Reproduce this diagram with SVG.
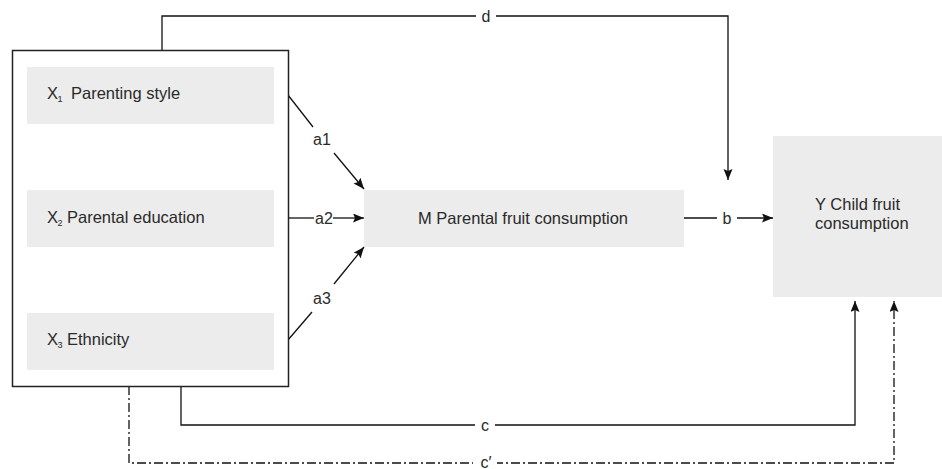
<svg xmlns="http://www.w3.org/2000/svg" width="942" height="469" viewBox="0 0 942 469">
<style>
.box{fill:#ececec;stroke:none}
.frame{fill:#fff;stroke:#222;stroke-width:1.5}
.t{font-family:"Liberation Sans",Arial,sans-serif;font-size:16.5px;fill:#2a2a2a}
.sub{font-size:9px}
.lbl{font-family:"Liberation Sans",Arial,sans-serif;font-size:16px;fill:#2a2a2a;text-anchor:middle;dominant-baseline:central}
.ln{fill:none;stroke:#111;stroke-width:1.3}
.dd{fill:none;stroke:#111;stroke-width:1.3;stroke-dasharray:9 3 2 3}
.bg{fill:#fff}
</style>
<defs>
<marker id="ah" markerUnits="userSpaceOnUse" markerWidth="12" markerHeight="10" refX="11" refY="4.5" orient="auto">
<path d="M0,0 L11,4.5 L0,9 L2,4.5 z" fill="#111"/>
</marker>
</defs>
<g id="connectors">
<path class="ln" d="M162,50 V16 H728 V180" marker-end="url(#ah)"/>
<rect class="bg" x="476" y="7" width="20" height="18"/>
<text class="lbl" x="486" y="16">d</text>
<path class="ln" d="M288,95 L313,127"/>
<text class="lbl" x="322" y="139">a1</text>
<path class="ln" d="M334,153 L364,189" marker-end="url(#ah)"/>
<path class="ln" d="M288,218 H314"/>
<text class="lbl" x="324" y="218">a2</text>
<path class="ln" d="M333,218 H364" marker-end="url(#ah)"/>
<path class="ln" d="M288,340 L312,312"/>
<text class="lbl" x="322" y="298">a3</text>
<path class="ln" d="M334,284 L364,247" marker-end="url(#ah)"/>
<path class="ln" d="M684,218 H717"/>
<text class="lbl" x="727" y="218">b</text>
<path class="ln" d="M737,218 H773" marker-end="url(#ah)"/>
<path class="ln" d="M181,386 V425 H855 V301" marker-end="url(#ah)"/>
<rect class="bg" x="475" y="416" width="20" height="18"/>
<text class="lbl" x="485" y="425">c</text>
<path class="dd" d="M129,386 V463 H894 V301" marker-end="url(#ah)"/>
<rect class="bg" x="473" y="454" width="24" height="15"/>
<text class="lbl" x="486" y="462">c′</text>
</g>
<g id="x-group">
<rect class="frame" x="12.5" y="50.5" width="276" height="336"/>
</g>
<g id="x1">
<rect class="box" x="27" y="67" width="247" height="57"/>
<text class="t" x="47" y="99">X<tspan class="sub" dx="-0.5" dy="3">1</tspan><tspan dy="-3" x="71">Parenting style</tspan></text>
</g>
<g id="x2">
<rect class="box" x="27" y="190" width="247" height="57"/>
<text class="t" x="47" y="223">X<tspan class="sub" dx="-0.5" dy="3">2</tspan><tspan dy="-3" x="67">Parental education</tspan></text>
</g>
<g id="x3">
<rect class="box" x="27" y="313" width="247" height="57"/>
<text class="t" x="47" y="345">X<tspan class="sub" dx="-0.5" dy="3">3</tspan><tspan dy="-3" x="67">Ethnicity</tspan></text>
</g>
<g id="m">
<rect class="box" x="364" y="190" width="320" height="57"/>
<text class="t" x="523" y="224" text-anchor="middle">M Parental fruit consumption</text>
</g>
<g id="y">
<rect class="box" x="773" y="136" width="169" height="161"/>
<text class="t" x="815" y="210">Y Child fruit</text>
<text class="t" x="815" y="229">consumption</text>
</g>
</svg>
